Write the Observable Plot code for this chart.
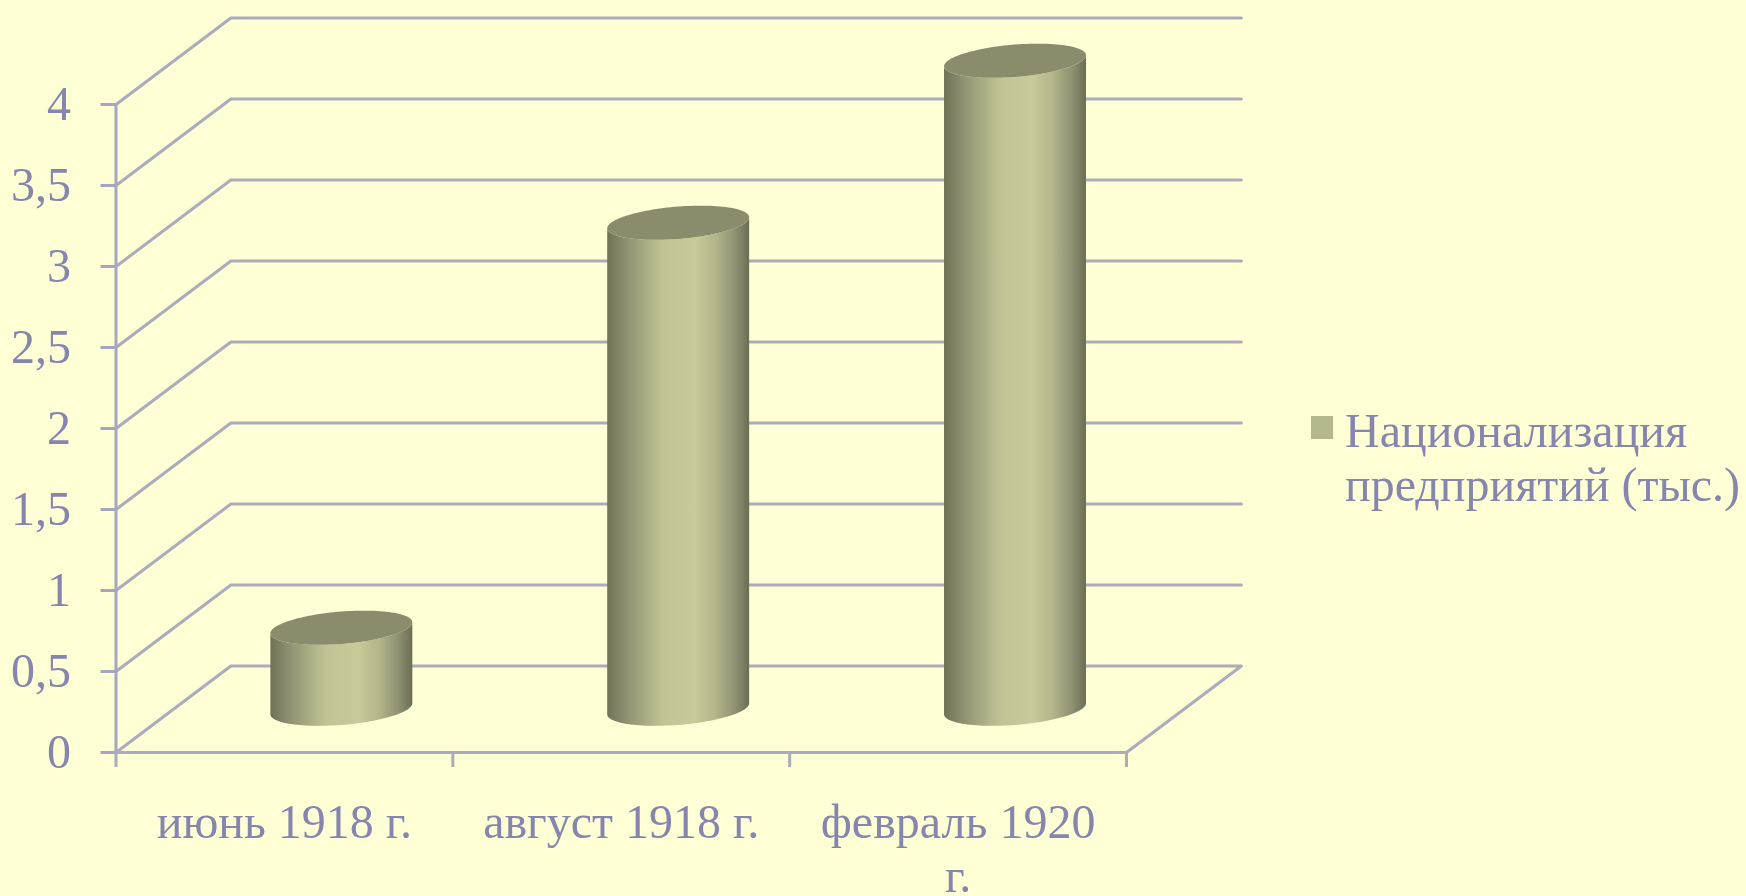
<!DOCTYPE html>
<html lang="ru">
<head>
<meta charset="utf-8">
<script src="https://cdn.jsdelivr.net/npm/d3@7"></script>
<script src="https://cdn.jsdelivr.net/npm/@observablehq/plot@0.6"></script>
<style>
html,body{margin:0;padding:0;background:#FFFFD6;width:1746px;height:896px;overflow:hidden}
#wrap{position:relative;width:1746px;height:896px;font-family:"Liberation Serif",serif;color:#8585AE}
#wrap svg,#legend{filter:blur(.6px)}
#legend{position:absolute;left:1311px;top:404px;display:flex;align-items:flex-start}
#legend i{display:block;width:22px;height:23px;background:#B5B78F;margin:12px 12px 0 0;flex:none}
#legend span{font-size:48px;line-height:54px;white-space:pre}
</style>
</head>
<body>
<div id="wrap">
<div id="legend"><i></i><span id="legendText"></span></div>
</div>
<script>
const categories = ["июнь 1918 г.", "август 1918 г.", "февраль 1920\nг."];
const values = [0.5, 3, 4];
const yTicks = [0, 0.5, 1, 1.5, 2, 2.5, 3, 3.5, 4];
const seriesName = "Национализация\nпредприятий (тыс.)";

// oblique projection of the 3-D box, in data units
const depthX = 0.341, depthY = 0.534;
const radiusX = 0.2107, shearY = 0.034, radiusY = 0.1;
const midX = depthX / 2, midY = depthY / 2;

const grid = yTicks.flatMap((t) => [
  {t, x: 0, y: t},
  {t, x: depthX, y: t + depthY},
  {t, x: 3 + depthX, y: t + depthY},
  ...(t === 0 ? [{t, x: 3, y: 0}] : [])
]);

const angles = d3.range(0, 61).map((i) => (i / 60) * Math.PI);
const arc = (a) => ({dx: radiusX * Math.cos(a), dy: shearY * Math.cos(a), k: radiusY * Math.sin(a)});
const bodies = values.flatMap((v, i) => angles.map((a) => {
  const {dx, dy, k} = arc(a);
  const cx = i + 0.5 + midX;
  return {i, x: cx + dx, y1: midY + dy - k, y2: midY + v + dy - k};
}));
const tops = values.flatMap((v, i) => angles.map((a) => {
  const {dx, dy, k} = arc(a);
  const cx = i + 0.5 + midX;
  return {i, x: cx + dx, y1: midY + v + dy - k, y2: midY + v + dy + k};
}));

const gridColor = "#ABABBC", axisColor = "#A6A6C2", textColor = "#8585AE";

const defs = () => {
  const d = d3.create("svg:defs");
  const g = d.append("linearGradient").attr("id", "cyl").attr("x1", 0).attr("x2", 1).attr("y1", 0).attr("y2", 0);
  [[0, "#6F7156"], [0.06, "#7E8064"], [0.2, "#9C9E7A"], [0.4, "#C2C496"], [0.62, "#C8CA98"], [0.76, "#B4B68C"], [0.9, "#8F9172"], [1, "#6C6E54"]]
    .forEach(([o, c]) => g.append("stop").attr("offset", o).attr("stop-color", c));
  return d.node();
};

const chart = Plot.plot({
  width: 1290, height: 896,
  marginLeft: 115.5, marginRight: 164, marginTop: 104, marginBottom: 144,
  style: {background: "transparent", fontFamily: "'Liberation Serif', serif", overflow: "visible"},
  x: {domain: [0, 3], axis: null},
  y: {domain: [0, 4], axis: null},
  marks: [
    defs,
    Plot.line(grid, {x: "x", y: "y", z: "t", stroke: gridColor, strokeWidth: 3, curve: "linear"}),
    Plot.ruleX([0], {y1: 0, y2: 4, stroke: axisColor, strokeWidth: 3}),
    Plot.ruleY([0], {x1: 0, x2: 3, stroke: gridColor, strokeWidth: 3}),
    Plot.axisY({ticks: yTicks, tickSize: 15, tickPadding: 30, stroke: axisColor, strokeWidth: 3, fill: textColor,
      fontSize: 48, label: null, tickFormat: (d) => String(d).replace(".", ",")}),
    Plot.axisX({ticks: [0, 1, 2, 3], tickSize: 15, stroke: gridColor, strokeWidth: 3, tickFormat: () => "", label: null}),
    Plot.text(categories, {x: (d, i) => i + 0.5, y: 0, text: (d) => d, dy: 47, lineAnchor: "top", lineHeight: 54 / 48,
      fontSize: 48, fill: textColor, textAnchor: "middle"}),
    Plot.areaY(bodies, {x: "x", y1: "y1", y2: "y2", z: "i", fill: "url(#cyl)"}),
    Plot.areaY(tops, {x: "x", y1: "y1", y2: "y2", z: "i", fill: "#8A8C6C"})
  ]
});
document.getElementById("wrap").prepend(chart);
document.getElementById("legendText").textContent = seriesName;
</script>
</body>
</html>
